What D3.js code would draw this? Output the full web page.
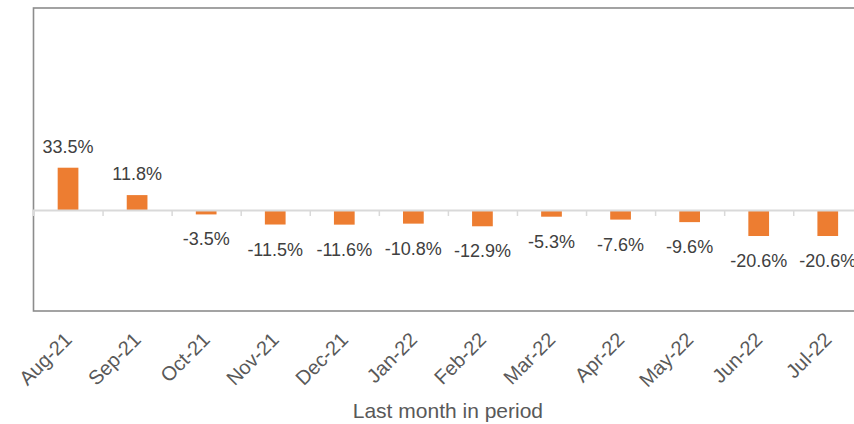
<!DOCTYPE html>
<html>
<head>
<meta charset="utf-8">
<script src="https://cdn.jsdelivr.net/npm/d3@7"></script>
<style>
  html, body { margin: 0; padding: 0; background: #ffffff; }
  svg { display: block; }
  text { font-family: "Liberation Sans", Arial, sans-serif; }
</style>
</head>
<body>
<svg id="chart" width="854" height="424"></svg>
<script>
const categories = ["Aug-21","Sep-21","Oct-21","Nov-21","Dec-21","Jan-22","Feb-22","Mar-22","Apr-22","May-22","Jun-22","Jul-22"];
const values = [33.5, 11.8, -3.5, -11.5, -11.6, -10.8, -12.9, -5.3, -7.6, -9.6, -20.6, -20.6];
const valueLabels = ["33.5%","11.8%","-3.5%","-11.5%","-11.6%","-10.8%","-12.9%","-5.3%","-7.6%","-9.6%","-20.6%","-20.6%"];
const yDomain = [-80, 160];
const xTitle = "Last month in period";

const svg = d3.select("#chart");
const plot = { left: 33.5, top: 8, width: 828.8, height: 303 };

const x = d3.scaleBand()
  .domain(categories)
  .range([plot.left, plot.left + plot.width])
  .paddingInner(0.7)
  .paddingOuter(0.35);

const y = d3.scaleLinear()
  .domain(yDomain)
  .range([plot.top + plot.height, plot.top]);

// plot border
svg.append("rect")
  .attr("x", plot.left)
  .attr("y", plot.top)
  .attr("width", plot.width)
  .attr("height", plot.height)
  .attr("fill", "none")
  .attr("stroke", "#8c8c8c")
  .attr("stroke-width", 1.6);

// bars
svg.append("g").selectAll("rect")
  .data(values)
  .join("rect")
  .attr("x", (d, i) => x(categories[i]))
  .attr("width", x.bandwidth())
  .attr("y", d => y(Math.max(0, d)))
  .attr("height", d => Math.abs(y(d) - y(0)))
  .attr("fill", "#ED7D31");

// zero axis line with tick marks at category boundaries
const zeroAxis = d3.axisBottom(
    d3.scaleLinear().domain([0, categories.length]).range([plot.left, plot.left + plot.width])
  )
  .tickValues(d3.range(0, categories.length + 1))
  .tickSize(6)
  .tickFormat("");
const za = svg.append("g")
  .attr("transform", `translate(0,${y(0)})`)
  .call(zeroAxis);
za.select(".domain").attr("stroke", "#d9d9d9").attr("stroke-width", 2);
za.selectAll(".tick line").attr("stroke", "#d9d9d9").attr("stroke-width", 1.5);

// data labels
svg.append("g").selectAll("text")
  .data(values)
  .join("text")
  .attr("x", (d, i) => x(categories[i]) + x.bandwidth() / 2)
  .attr("y", d => d >= 0 ? y(d) - 15 : y(d) + 31)
  .attr("text-anchor", "middle")
  .attr("font-size", 18)
  .attr("fill", "#404040")
  .text((d, i) => valueLabels[i]);

// category labels (rotated)
const xAxis = d3.axisBottom(x).tickSize(0).tickPadding(0);
const xa = svg.append("g")
  .attr("transform", `translate(0,${plot.top + plot.height})`)
  .call(xAxis);
xa.select(".domain").remove();
xa.selectAll(".tick text")
  .attr("font-size", 20)
  .attr("font-family", "Liberation Sans, Arial, sans-serif")
  .attr("fill", "#595959")
  .attr("text-anchor", "end")
  .attr("dy", 0)
  .attr("y", 0)
  .attr("transform", "translate(5,30) rotate(-45)");

// axis title
svg.append("text")
  .attr("x", plot.left + plot.width / 2)
  .attr("y", 418)
  .attr("text-anchor", "middle")
  .attr("font-size", 21)
  .attr("fill", "#595959")
  .text(xTitle);
</script>
</body>
</html>
